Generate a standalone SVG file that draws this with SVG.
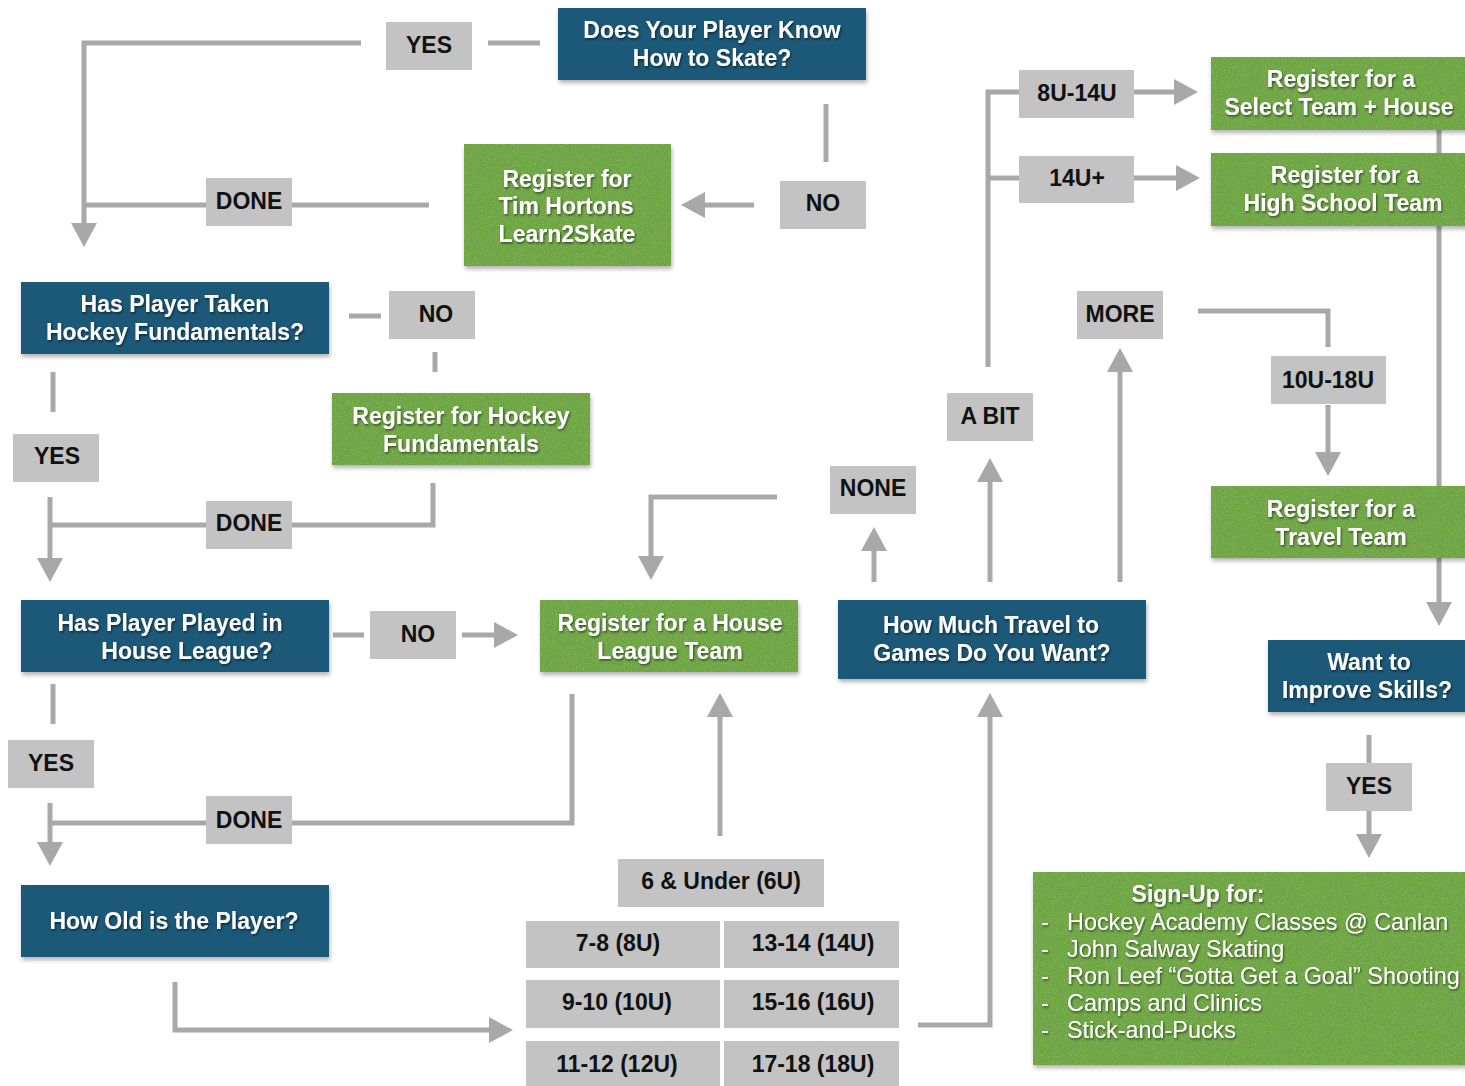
<svg xmlns="http://www.w3.org/2000/svg" width="1465" height="1086" viewBox="0 0 1465 1086">
<defs>
<style>
.q{fill:#1d5878}
.g{fill:#6ba53f}
.lb{fill:#c3c3c3}
.nt{font-family:"Liberation Sans",Arial,sans-serif;font-weight:bold;font-size:23px;fill:#fff;text-anchor:middle}
.lt{font-family:"Liberation Sans",Arial,sans-serif;font-weight:bold;font-size:23px;fill:#111;text-anchor:middle}
.st{font-family:"Liberation Sans",Arial,sans-serif;font-size:23.4px;fill:#fff}
.c{fill:none;stroke:#a8a8a8;stroke-width:5}
</style>
<marker id="ah" markerUnits="userSpaceOnUse" markerWidth="26" markerHeight="26" refX="0" refY="13" orient="auto" viewBox="0 0 26 26">
<path d="M0,0 L24,13 L0,26 z" fill="#a8a8a8"/>
</marker>
<filter id="grass" x="-5%" y="-5%" width="110%" height="125%">
<feTurbulence type="fractalNoise" baseFrequency="0.9" numOctaves="2" seed="4" result="noise"/>
<feColorMatrix in="noise" type="matrix" values="0 0 0 0 0.28  0 0 0 0 0.45  0 0 0 0 0.14  0 0 0 2.2 -0.95" result="dark"/>
<feComposite in="dark" in2="SourceAlpha" operator="in" result="tex"/>
<feGaussianBlur in="SourceAlpha" stdDeviation="2" result="b"/>
<feOffset in="b" dx="1" dy="3" result="ob"/>
<feFlood flood-color="#000" flood-opacity="0.3"/>
<feComposite in2="ob" operator="in" result="sh"/>
<feMerge><feMergeNode in="sh"/><feMergeNode in="SourceGraphic"/><feMergeNode in="tex"/></feMerge>
</filter>
<filter id="shadow" x="-5%" y="-5%" width="110%" height="125%">
<feGaussianBlur in="SourceAlpha" stdDeviation="2" result="b"/>
<feOffset in="b" dx="1" dy="3" result="ob"/>
<feFlood flood-color="#000" flood-opacity="0.3"/>
<feComposite in2="ob" operator="in" result="sh"/>
<feMerge><feMergeNode in="sh"/><feMergeNode in="SourceGraphic"/></feMerge>
</filter>
<filter id="ts" x="-10%" y="-30%" width="120%" height="160%">
<feDropShadow dx="1" dy="1.5" stdDeviation="1" flood-color="#000" flood-opacity="0.55"/>
</filter>
</defs>
<rect width="1465" height="1086" fill="#fff"/>

<g id="connectors">
<path class="c" d="M540,43 H488"/>
<path class="c" d="M361,43 H84 V223" marker-end="url(#ah)"/>
<path class="c" d="M429,205 H292"/>
<path class="c" d="M206,205 H84"/>
<path class="c" d="M826,104 V162"/>
<path class="c" d="M754,205 H705" marker-end="url(#ah)"/>
<path class="c" d="M349,316 H381"/>
<path class="c" d="M435,352 V372"/>
<path class="c" d="M53,372 V412"/>
<path class="c" d="M50,497 V558" marker-end="url(#ah)"/>
<path class="c" d="M433,483 V525 H292"/>
<path class="c" d="M206,525 H50"/>
<path class="c" d="M333,635 H364"/>
<path class="c" d="M462,635 H494" marker-end="url(#ah)"/>
<path class="c" d="M53,684 V724"/>
<path class="c" d="M50,803 V842" marker-end="url(#ah)"/>
<path class="c" d="M572,694 V823 H292"/>
<path class="c" d="M206,823 H50"/>
<path class="c" d="M175,982 V1030 H489" marker-end="url(#ah)"/>
<path class="c" d="M720,836 V717" marker-end="url(#ah)"/>
<path class="c" d="M918,1025 H990 V717" marker-end="url(#ah)"/>
<path class="c" d="M874,582 V551" marker-end="url(#ah)"/>
<path class="c" d="M990,582 V482" marker-end="url(#ah)"/>
<path class="c" d="M1120,582 V372" marker-end="url(#ah)"/>
<path class="c" d="M777,497 H651 V556" marker-end="url(#ah)"/>
<path class="c" d="M988,367 V92 H1019"/>
<path class="c" d="M988,178 H1019"/>
<path class="c" d="M1134,92 H1174" marker-end="url(#ah)"/>
<path class="c" d="M1134,178 H1176" marker-end="url(#ah)"/>
<path class="c" d="M1198,311 H1328 V347"/>
<path class="c" d="M1328,405 V452" marker-end="url(#ah)"/>
<path class="c" d="M1439,130 V602" marker-end="url(#ah)"/>
<path class="c" d="M1369,735 V763"/>
<path class="c" d="M1369,811 V834" marker-end="url(#ah)"/>
</g>

<g id="q-skate" filter="url(#shadow)"><rect class="q" x="558" y="8" width="308" height="72"/></g>
<g id="q-skate-text" filter="url(#ts)"><text class="nt" x="712" y="38">Does Your Player Know</text><text class="nt" x="712" y="66">How to Skate?</text></g>

<g id="q-fundamentals" filter="url(#shadow)"><rect class="q" x="21" y="282" width="308" height="72"/></g>
<g id="q-fundamentals-text" filter="url(#ts)"><text class="nt" x="175" y="312">Has Player Taken</text><text class="nt" x="175" y="340">Hockey Fundamentals?</text></g>

<g id="q-house" filter="url(#shadow)"><rect class="q" x="21" y="600" width="308" height="72"/></g>
<g id="q-house-text" filter="url(#ts)"><text class="nt" x="170" y="631">Has Player Played in</text><text class="nt" x="187" y="659">House League?</text></g>

<g id="q-age" filter="url(#shadow)"><rect class="q" x="21" y="885" width="308" height="72"/></g>
<g id="q-age-text" filter="url(#ts)"><text class="nt" x="174" y="929">How Old is the Player?</text></g>

<g id="q-travel" filter="url(#shadow)"><rect class="q" x="838" y="600" width="308" height="79"/></g>
<g id="q-travel-text" filter="url(#ts)"><text class="nt" x="991" y="633">How Much Travel to</text><text class="nt" x="992" y="661">Games Do You Want?</text></g>

<g id="q-improve" filter="url(#shadow)"><rect class="q" x="1268" y="640" width="200" height="72"/></g>
<g id="q-improve-text" filter="url(#ts)"><text class="nt" x="1369" y="670">Want to</text><text class="nt" x="1367" y="698">Improve Skills?</text></g>

<g id="r-learn2skate" filter="url(#grass)"><rect class="g" x="464" y="144" width="207" height="122"/></g>
<g id="r-learn2skate-text" filter="url(#ts)"><text class="nt" x="567" y="187">Register for</text><text class="nt" x="566" y="214">Tim Hortons</text><text class="nt" x="567" y="242">Learn2Skate</text></g>

<g id="r-fundamentals" filter="url(#grass)"><rect class="g" x="332" y="393" width="258" height="72"/></g>
<g id="r-fundamentals-text" filter="url(#ts)"><text class="nt" x="461" y="424">Register for Hockey</text><text class="nt" x="461" y="452">Fundamentals</text></g>

<g id="r-house" filter="url(#grass)"><rect class="g" x="540" y="600" width="258" height="72"/></g>
<g id="r-house-text" filter="url(#ts)"><text class="nt" x="670" y="631">Register for a House</text><text class="nt" x="670" y="659">League Team</text></g>

<g id="r-select" filter="url(#grass)"><rect class="g" x="1211" y="57" width="260" height="73"/></g>
<g id="r-select-text" filter="url(#ts)"><text class="nt" x="1341" y="87">Register for a</text><text class="nt" x="1339" y="115">Select Team + House</text></g>

<g id="r-highschool" filter="url(#grass)"><rect class="g" x="1211" y="153" width="260" height="73"/></g>
<g id="r-highschool-text" filter="url(#ts)"><text class="nt" x="1345" y="183">Register for a</text><text class="nt" x="1343" y="211">High School Team</text></g>

<g id="r-travel" filter="url(#grass)"><rect class="g" x="1211" y="486" width="260" height="72"/></g>
<g id="r-travel-text" filter="url(#ts)"><text class="nt" x="1341" y="517">Register for a</text><text class="nt" x="1341" y="545">Travel Team</text></g>

<g id="r-signup" filter="url(#grass)"><rect class="g" x="1033" y="872" width="440" height="193"/></g>
<g id="r-signup-text" filter="url(#ts)">
<text class="nt" x="1198" y="902">Sign-Up for:</text>
<text class="st" x="1041" y="930">-</text><text class="st" x="1067" y="930">Hockey Academy Classes @ Canlan</text>
<text class="st" x="1041" y="957">-</text><text class="st" x="1067" y="957">John Salway Skating</text>
<text class="st" x="1041" y="984">-</text><text class="st" x="1067" y="984">Ron Leef “Gotta Get a Goal” Shooting</text>
<text class="st" x="1041" y="1011">-</text><text class="st" x="1067" y="1011">Camps and Clinics</text>
<text class="st" x="1041" y="1038">-</text><text class="st" x="1067" y="1038">Stick-and-Pucks</text>
</g>

<g id="l-yes1"><rect class="lb" x="386" y="22" width="86" height="48"/><text class="lt" x="429" y="53">YES</text></g>
<g id="l-no1"><rect class="lb" x="780" y="181" width="86" height="48"/><text class="lt" x="823" y="211">NO</text></g>
<g id="l-done1"><rect class="lb" x="206" y="178" width="86" height="48"/><text class="lt" x="249" y="209">DONE</text></g>
<g id="l-no2"><rect class="lb" x="389" y="291" width="86" height="48"/><text class="lt" x="436" y="322">NO</text></g>
<g id="l-yes2"><rect class="lb" x="13" y="434" width="86" height="48"/><text class="lt" x="57" y="464">YES</text></g>
<g id="l-done2"><rect class="lb" x="206" y="501" width="86" height="48"/><text class="lt" x="249" y="531">DONE</text></g>
<g id="l-no3"><rect class="lb" x="370" y="611" width="86" height="48"/><text class="lt" x="418" y="642">NO</text></g>
<g id="l-yes3"><rect class="lb" x="8" y="740" width="86" height="48"/><text class="lt" x="51" y="771">YES</text></g>
<g id="l-done3"><rect class="lb" x="206" y="796" width="86" height="48"/><text class="lt" x="249" y="828">DONE</text></g>
<g id="l-8u14u"><rect class="lb" x="1019" y="70" width="115" height="48"/><text class="lt" x="1077" y="101">8U-14U</text></g>
<g id="l-14uplus"><rect class="lb" x="1019" y="156" width="115" height="47"/><text class="lt" x="1077" y="186">14U+</text></g>
<g id="l-more"><rect class="lb" x="1077" y="291" width="86" height="48"/><text class="lt" x="1120" y="322">MORE</text></g>
<g id="l-abit"><rect class="lb" x="947" y="393" width="86" height="48"/><text class="lt" x="990" y="424">A BIT</text></g>
<g id="l-none"><rect class="lb" x="830" y="466" width="86" height="48"/><text class="lt" x="873" y="496">NONE</text></g>
<g id="l-10u18u"><rect class="lb" x="1271" y="356" width="115" height="48"/><text class="lt" x="1328" y="388">10U-18U</text></g>
<g id="l-yes4"><rect class="lb" x="1326" y="763" width="86" height="48"/><text class="lt" x="1369" y="794">YES</text></g>

<g id="ages">
<rect class="lb" x="618" y="859" width="206" height="48"/><text class="lt" x="721" y="889">6 &amp; Under (6U)</text>
<rect class="lb" x="526" y="921" width="194" height="47"/><text class="lt" x="618" y="951">7-8 (8U)</text>
<rect class="lb" x="724" y="921" width="175" height="47"/><text class="lt" x="813" y="951">13-14 (14U)</text>
<rect class="lb" x="526" y="980" width="194" height="48"/><text class="lt" x="617" y="1010">9-10 (10U)</text>
<rect class="lb" x="724" y="980" width="175" height="48"/><text class="lt" x="813" y="1010">15-16 (16U)</text>
<rect class="lb" x="526" y="1041" width="194" height="48"/><text class="lt" x="617" y="1072">11-12 (12U)</text>
<rect class="lb" x="724" y="1041" width="175" height="48"/><text class="lt" x="813" y="1072">17-18 (18U)</text>
</g>
</svg>
